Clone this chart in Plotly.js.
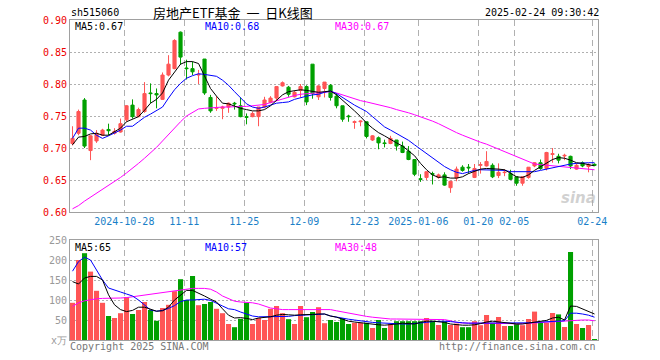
<!DOCTYPE html>
<html>
<head>
<meta charset="utf-8">
<script src="https://cdn.plot.ly/plotly-3.0.1.min.js"></script>
<style>
html,body{margin:0;padding:0;background:#fff;}
#chart{width:660px;height:360px;}
</style>
</head>
<body>
<div id="chart"></div>
<script>
const dates = [
'2024-10-15','2024-10-16','2024-10-17','2024-10-18','2024-10-21','2024-10-22','2024-10-23','2024-10-24','2024-10-25','2024-10-28',
'2024-10-29','2024-10-30','2024-10-31','2024-11-01','2024-11-04','2024-11-05','2024-11-06','2024-11-07','2024-11-08','2024-11-11',
'2024-11-12','2024-11-13','2024-11-14','2024-11-15','2024-11-18','2024-11-19','2024-11-20','2024-11-21','2024-11-22','2024-11-25',
'2024-11-26','2024-11-27','2024-11-28','2024-11-29','2024-12-02','2024-12-03','2024-12-04','2024-12-05','2024-12-06','2024-12-09',
'2024-12-10','2024-12-11','2024-12-12','2024-12-13','2024-12-16','2024-12-17','2024-12-18','2024-12-19','2024-12-20','2024-12-23',
'2024-12-24','2024-12-25','2024-12-26','2024-12-27','2024-12-30','2024-12-31','2025-01-02','2025-01-03','2025-01-06','2025-01-07',
'2025-01-08','2025-01-09','2025-01-10','2025-01-13','2025-01-14','2025-01-15','2025-01-16','2025-01-17','2025-01-20','2025-01-21',
'2025-01-22','2025-01-23','2025-01-24','2025-01-27','2025-02-05','2025-02-06','2025-02-07','2025-02-10','2025-02-11','2025-02-12',
'2025-02-13','2025-02-14','2025-02-17','2025-02-18','2025-02-19','2025-02-20','2025-02-21','2025-02-24'];

const open = [
0.707,0.723,0.775,0.696,0.711,0.720,0.729,0.723,0.725,0.744,
0.767,0.749,0.757,0.786,0.785,0.776,0.814,0.824,0.881,0.825,
0.824,0.814,0.839,0.779,0.762,0.762,0.764,0.770,0.766,0.749,
0.749,0.749,0.764,0.771,0.778,0.797,0.795,0.780,0.790,0.796,
0.831,0.780,0.793,0.798,0.781,0.766,0.750,0.740,0.741,0.741,
0.7125,0.716,0.708,0.707,0.7125,0.703,0.695,0.682,0.652,0.654,
0.660,0.654,0.658,0.638,0.653,0.670,0.670,0.654,0.673,0.672,
0.673,0.657,0.6615,0.660,0.655,0.645,0.654,0.672,0.677,0.668,
0.690,0.687,0.6875,0.687,0.667,0.677,0.671,0.6745];
const high = [
0.734,0.760,0.778,0.720,0.728,0.730,0.738,0.731,0.746,0.767,
0.776,0.763,0.803,0.801,0.793,0.818,0.845,0.870,0.882,0.838,
0.835,0.822,0.839,0.783,0.781,0.766,0.771,0.772,0.779,0.754,
0.757,0.764,0.780,0.781,0.796,0.804,0.797,0.789,0.800,0.798,
0.831,0.798,0.803,0.800,0.785,0.766,0.752,0.743,0.743,0.741,
0.720,0.718,0.713,0.719,0.7125,0.710,0.703,0.682,0.659,0.663,
0.663,0.660,0.662,0.648,0.671,0.673,0.675,0.675,0.678,0.695,
0.676,0.676,0.667,0.666,0.655,0.656,0.670,0.678,0.682,0.694,
0.700,0.691,0.691,0.688,0.676,0.679,0.676,0.676];
const low = [
0.704,0.720,0.700,0.681,0.708,0.719,0.720,0.721,0.724,0.741,
0.746,0.748,0.755,0.770,0.762,0.775,0.812,0.823,0.830,0.807,
0.814,0.800,0.783,0.755,0.758,0.745,0.755,0.760,0.748,0.737,
0.748,0.734,0.762,0.770,0.775,0.796,0.780,0.779,0.779,0.767,
0.777,0.775,0.779,0.774,0.762,0.741,0.741,0.730,0.734,0.715,
0.711,0.698,0.701,0.706,0.696,0.692,0.681,0.656,0.647,0.650,
0.643,0.652,0.641,0.630,0.648,0.663,0.660,0.653,0.660,0.671,
0.653,0.653,0.656,0.650,0.641,0.641,0.652,0.670,0.666,0.665,
0.677,0.676,0.681,0.667,0.666,0.670,0.662,0.672];
const close = [
0.715,0.757,0.703,0.719,0.723,0.728,0.727,0.726,0.738,0.766,
0.749,0.760,0.785,0.785,0.783,0.814,0.831,0.868,0.842,0.824,
0.819,0.815,0.786,0.758,0.763,0.764,0.770,0.769,0.749,0.748,
0.754,0.764,0.775,0.778,0.796,0.802,0.784,0.787,0.796,0.772,
0.785,0.797,0.803,0.779,0.766,0.745,0.749,0.741,0.742,0.718,
0.719,0.708,0.707,0.715,0.703,0.693,0.682,0.659,0.651,0.663,
0.659,0.658,0.642,0.648,0.667,0.665,0.669,0.668,0.674,0.679,
0.655,0.662,0.662,0.651,0.645,0.655,0.670,0.677,0.668,0.693,
0.691,0.681,0.6885,0.672,0.673,0.672,0.674,0.673];

const ma5 = [
0.705,0.717,0.718,0.722,0.723,0.720,0.720,0.725,0.731,0.741,
0.745,0.749,0.759,0.770,0.776,0.786,0.806,0.819,0.831,0.835,
0.835,0.832,0.812,0.793,0.781,0.770,0.769,0.765,0.762,0.760,
0.758,0.758,0.760,0.766,0.775,0.783,0.788,0.789,0.791,0.790,
0.788,0.787,0.788,0.789,0.783,0.775,0.767,0.758,0.749,0.739,
0.731,0.724,0.719,0.713,0.708,0.703,0.695,0.688,0.676,0.666,
0.658,0.654,0.655,0.653,0.653,0.655,0.660,0.663,0.667,0.668,
0.668,0.667,0.666,0.660,0.655,0.654,0.658,0.665,0.671,0.677,
0.682,0.685,0.684,0.681,0.677,0.676,0.674,0.672];
const ma10 = [
0.715,0.731,0.731,0.728,0.720,0.715,0.719,0.723,0.728,0.734,
0.734,0.741,0.748,0.753,0.758,0.764,0.778,0.791,0.801,0.809,
0.813,0.816,0.815,0.814,0.812,0.806,0.798,0.788,0.778,0.769,
0.764,0.762,0.764,0.767,0.770,0.771,0.772,0.776,0.779,0.781,
0.783,0.784,0.787,0.789,0.785,0.779,0.772,0.767,0.762,0.757,
0.749,0.741,0.733,0.728,0.723,0.718,0.712,0.705,0.698,0.692,
0.685,0.677,0.671,0.666,0.662,0.660,0.663,0.665,0.666,0.666,
0.666,0.666,0.665,0.663,0.663,0.662,0.662,0.663,0.665,0.667,
0.670,0.672,0.673,0.675,0.676,0.677,0.677,0.677];
const ma30 = [
0.605,0.610,0.617,0.623,0.629,0.635,0.641,0.648,0.654,0.661,
0.668,0.676,0.684,0.692,0.701,0.711,0.721,0.732,0.741,0.750,
0.756,0.761,0.762,0.763,0.763,0.764,0.764,0.765,0.765,0.765,
0.766,0.766,0.768,0.771,0.774,0.777,0.780,0.782,0.784,0.785,
0.786,0.787,0.787,0.788,0.786,0.783,0.779,0.776,0.774,0.772,
0.770,0.767,0.765,0.763,0.760,0.758,0.755,0.752,0.749,0.746,
0.742,0.738,0.733,0.729,0.724,0.720,0.716,0.712,0.709,0.706,
0.702,0.698,0.694,0.690,0.686,0.682,0.678,0.675,0.674,0.673,
0.672,0.671,0.670,0.669,0.668,0.667,0.666,0.666];

const volume = [
93,200,217,171,123,93,60,55,67,107,
65,75,95,75,48,80,88,122,152,100,
160,87,90,95,78,67,40,32,53,93,
40,55,50,78,85,67,52,40,85,57,
70,82,42,50,45,55,40,43,43,43,
30,50,30,40,47,47,47,47,47,55,
48,37.5,47,37.5,41,32,32,47,37,62.5,
43,57.5,35,35,41,37,52.5,71,42.5,43,
67.5,64,32.5,220,40,30,37.5,2.5];
const volMa5 = [
146,140,155,159,159,150,113,88,76,71,
74,82,82,77,72,73,82,100,112,124,
124,118,110,102,95,78,62,55,56,54,
51,55,57,58,62,64,63,62,63,63,
64,65,65,60,57,52,47,45,43,41,
40,38,37,38,40,42,41,40,44,47,
47,46,44,40,38,37,37,38,41,45,
47,45,43,41,40,40,42,44,47,49,
55,57,50,85,84,77,72,65];
const volMa10 = [
172,196,207,200,175,150,130,124,120,115,
110,100,88,75,72,74,79,86,96,100,
100,101,102,99,93,85,78,76,70,65,
60,58,58,59,59,59,59,61,62,62,
63,64,65,60,57,55,52,50,48,45,
44,43,42,41,40,40,40,41,42,44,
46,47,47,46,44,43,42,42,42,42,
42.5,42.5,42.5,42.5,42.5,42.5,43,44,45,46,
47,47,48,67,67,65,62,57];
const volMa30 = [
84,93,98,101,103,104,104,105,105,106,
108,110,112,114,116,119,121,122,125,127,
129,129,129,127,120,110,103,97,95,94,
93,90,84,80,78,76,76,76,76,76,
76,76,76,76,73,70,67,65,62,59,
57,55,54,52.5,52.5,52.5,52.5,52.5,52.5,52.5,
52.5,52,51,48,44,42.5,42.5,42.5,42.5,42.5,
42.5,42.5,42,41,40,41,42.5,43,44,44.5,
45,46,47,49,50,50,50,48];

const tickDates = ['2024-10-28','2024-11-11','2024-11-25','2024-12-09','2024-12-23','2025-01-06','2025-01-20','2025-02-05','2025-02-24'];
const tickLabels = ['2024-10-28','11-11','11-25','12-09','12-23','2025-01-06','01-20','02-05','02-24'];
const volTickVals = [0,50,100,150,200,250];
const volTickText = ['x万','50','100','150','200','250'];

const RED = '#ff5555', GREEN = '#00a000';
const idx = dates.map((d,i)=>i);
const tickPos = tickDates.map(d => dates.indexOf(d) - 0.37);
const volColors = close.map((c,i)=> c >= open[i] ? RED : GREEN);

const W = 660, H = 360;
const xDom = [70/W, 598/W];
const xRange = [-0.42, 87.58];
const MONO = 'DejaVu Sans Mono, monospace';

const traces = [
  {type:'candlestick', x:idx, open:open, high:high, low:low, close:close, xaxis:'x', yaxis:'y',
   increasing:{line:{color:RED,width:1}, fillcolor:RED},
   decreasing:{line:{color:GREEN,width:1}, fillcolor:GREEN},
   whiskerwidth:0, hoverinfo:'skip'},
  {type:'scatter', mode:'lines', x:idx, y:ma30, xaxis:'x', yaxis:'y', line:{color:'#ff00ff', width:1}, hoverinfo:'skip'},
  {type:'scatter', mode:'lines', x:idx, y:ma10, xaxis:'x', yaxis:'y', line:{color:'#0000ff', width:1}, hoverinfo:'skip'},
  {type:'scatter', mode:'lines', x:idx, y:ma5, xaxis:'x', yaxis:'y', line:{color:'#000000', width:1}, hoverinfo:'skip'},
  {type:'bar', x:idx, y:volume, xaxis:'x2', yaxis:'y2', width:0.85, marker:{color:volColors, line:{width:0}}, hoverinfo:'skip'},
  {type:'scatter', mode:'lines', x:idx, y:volMa30, xaxis:'x2', yaxis:'y2', line:{color:'#ff00ff', width:1}, hoverinfo:'skip'},
  {type:'scatter', mode:'lines', x:idx, y:volMa10, xaxis:'x2', yaxis:'y2', line:{color:'#0000ff', width:1}, hoverinfo:'skip'},
  {type:'scatter', mode:'lines', x:idx, y:volMa5, xaxis:'x2', yaxis:'y2', line:{color:'#000000', width:1}, hoverinfo:'skip'}
];

function ann(text, px, py, color, size, xanchor, family) {
  return {text:text, xref:'paper', yref:'paper', x:px/W, y:1-py/H, xanchor:xanchor||'left', yanchor:'middle',
          showarrow:false, font:{family:family||MONO, size:size||10, color:color||'#000'}};
}
const last = a => a[a.length-1];
const SP = '\u00a0\u00a0';

const annotations = [
  ann('sh515060', 69, 13, '#000', 10),
  ann('房地产ETF基金' + SP + '一' + SP + '日K线图', 151, 13, '#000', 13, 'left', 'Noto Sans CJK SC'),
  ann('2025-02-24 09:30:42', 601, 13, '#000', 10, 'right'),
  ann('MA5:' + last(ma5).toFixed(2), 73, 27, '#000', 10),
  ann('MA10:' + last(ma10).toFixed(2), 203, 27, '#0000ff', 10),
  ann('MA30:' + last(ma30).toFixed(2), 333, 27, '#ff00ff', 10),
  ann('MA5:' + Math.round(last(volMa5)), 73, 247, '#000', 10),
  ann('MA10:' + Math.round(last(volMa10)), 203, 247, '#0000ff', 10),
  ann('MA30:' + Math.round(last(volMa30)), 333, 247, '#ff00ff', 10),
  ann('Copyright 2025 SINA.COM', 68, 346, '#777', 10),
  ann('http://finance.sina.com.cn', 598, 346, '#777', 10, 'right'),
  ann('<b><i>sina</i></b>', 598, 198, 'rgba(170,170,170,0.55)', 15, 'right', 'DejaVu Sans')
];

const gridX = {showgrid:true, gridcolor:'#b0b0b0', griddash:'6px,4px', gridwidth:1};
const frame = {showline:true, mirror:true, linecolor:'#a0a0a0', linewidth:1, zeroline:false, ticks:''};

const layout = {
  width:W, height:H, margin:{l:0,r:0,t:0,b:0}, paper_bgcolor:'#fff', plot_bgcolor:'#fff',
  showlegend:false, boxgap:0.25, bargap:0.15,
  xaxis:Object.assign({domain:xDom, range:xRange, anchor:'y', tickmode:'array', tickvals:tickPos, ticktext:tickLabels,
    tickfont:{family:MONO, size:10, color:'#1a7fc8'}, rangeslider:{visible:false}, fixedrange:true}, gridX, frame),
  yaxis:Object.assign({domain:[(H-212)/H, (H-20)/H], range:[0.60,0.90], anchor:'x', tickmode:'linear', tick0:0.60, dtick:0.05,
    tickformat:'.2f', tickfont:{family:MONO, size:10, color:'#ee0000'}, showgrid:true, gridcolor:'#b0b0b0', griddash:'2px,2px'}, frame),
  xaxis2:Object.assign({domain:xDom, range:xRange, anchor:'y2', tickmode:'array', tickvals:tickPos, showticklabels:false}, gridX, frame),
  yaxis2:Object.assign({domain:[(H-340)/H, (H-240)/H], range:[0,250], anchor:'x2', tickmode:'array', tickvals:volTickVals, ticktext:volTickText,
    tickfont:{family:MONO, size:10, color:'#999'}, showgrid:true, gridcolor:'#b0b0b0', griddash:'2px,2px'}, frame),
  annotations:annotations
};

Plotly.newPlot('chart', traces, layout, {staticPlot:true, displayModeBar:false});
</script>
</body>
</html>
